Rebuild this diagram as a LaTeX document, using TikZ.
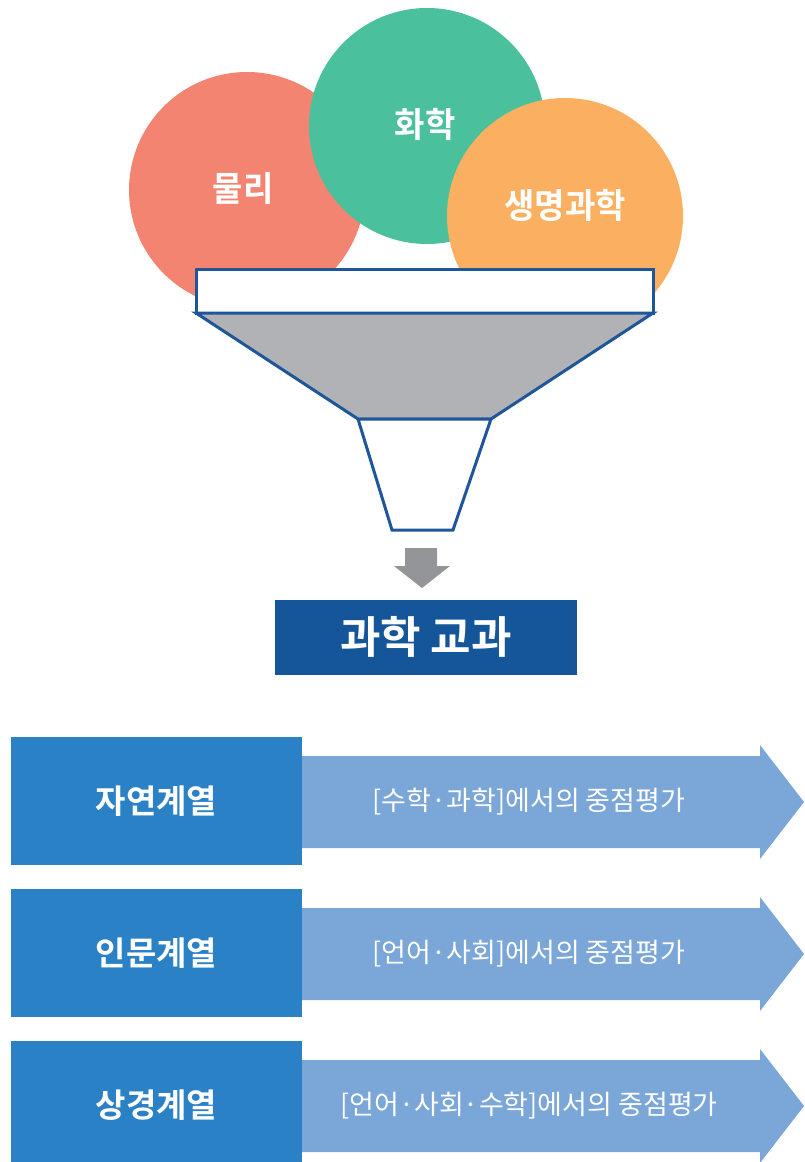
\documentclass[tikz,border=0pt]{standalone}
\usepackage{fontspec}
\newfontfamily\kr{Noto Sans CJK KR}
\newfontfamily\krb{Noto Sans CJK KR Bold}
\definecolor{cred}{HTML}{F48472}
\definecolor{cgreen}{HTML}{4AC09C}
\definecolor{corange}{HTML}{FAB060}
\definecolor{fline}{HTML}{1F5699}
\definecolor{fgray}{HTML}{B1B2B5}
\definecolor{agray}{HTML}{939598}
\definecolor{tblue}{HTML}{15569A}
\definecolor{lblue}{HTML}{2A81C6}
\definecolor{ablue}{HTML}{7BA6D8}
\tikzset{
  circ/.style={circle, minimum size=236pt, inner sep=0pt},
  circtext/.style={text=white, font=\krb\fontsize{33}{33}\selectfont, yscale=1.05},
  funnel/.style={draw=fline, line width=3pt, line join=miter},
  catbox/.style={fill=lblue, text=white, font=\krb\fontsize{33}{33}\selectfont, minimum width=291pt, minimum height=128pt, inner sep=0pt},
  arrtext/.style={text=white, font=\kr\fontsize{27}{27}\selectfont},
}
\begin{document}
\begin{tikzpicture}[x=1pt,y=-1pt]
\useasboundingbox (0,0) rectangle (804,1162);
% circles
\node[circ, fill=cred] (phys) at (247,190) {};
\node[circ, fill=cgreen] (chem) at (427,126) {};
\node[circ, fill=corange] (bio) at (565,216) {};
\node[circtext] (tphys) at (243,189) {물리};
\node[circtext] (tchem) at (425,124) {화학};
\node[circtext] (tbio) at (565,205) {생명과학};
% funnel
\coordinate (f1) at (196,313);
\coordinate (f2) at (653,313);
\coordinate (f3) at (491,419);
\coordinate (f4) at (358,419);
\coordinate (f5) at (453,530);
\coordinate (f6) at (392,530);
\draw[funnel, fill=white] (196,269) rectangle (653,313);
\draw[funnel, fill=fgray] (f1) -- (f2) -- (f3) -- (f4) -- cycle;
\draw[funnel, fill=white] (f4) -- (f3) -- (f5) -- (f6) -- cycle;
% gray arrow
\fill[agray] (405,548) -- (437,548) -- (437,566) -- (450,566) -- (422,588) -- (394,566) -- (405,566) -- cycle;
% title
\node[fill=tblue, minimum width=302pt, minimum height=75pt, inner sep=0pt] (title) at (426,637.5) {};
\node[text=white, font=\krb\fontsize{44}{44}\selectfont] (ttitle) at (426,637) {과학 교과};
% rows
\foreach \i/\cat/\txt in {0/자연계열/{[수학·과학]에서의 중점평가}, 1/인문계열/{[언어·사회]에서의 중점평가}, 2/상경계열/{[언어·사회·수학]에서의 중점평가}} {
  \pgfmathsetmacro{\oy}{152*\i}
  \fill[ablue] (302,756+\oy) -- (760,756+\oy) -- (760,745+\oy) -- (804,802+\oy) -- (760,859+\oy) -- (760,848+\oy) -- (302,848+\oy) -- cycle;
  \node[catbox] (cat\i) at (156.5,801+\oy) {\cat};
  \node[arrtext] (txt\i) at (529,802+\oy) {\txt};
}
\end{tikzpicture}
\end{document}
